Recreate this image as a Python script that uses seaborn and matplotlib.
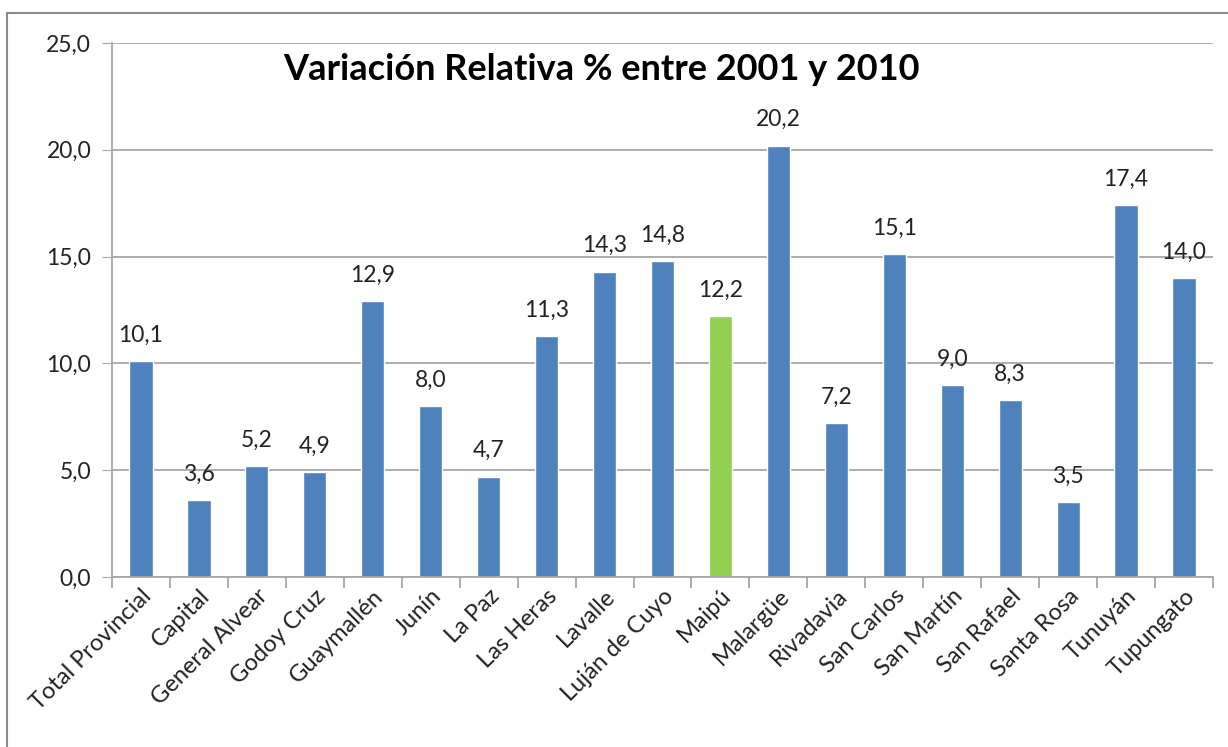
import matplotlib
matplotlib.use('Agg')
import matplotlib.pyplot as plt
import seaborn as sns
from matplotlib.lines import Line2D

# Datos
departamentos = ['Total Provincial', 'Capital', 'General Alvear', 'Godoy Cruz', 'Guaymallén',
                 'Junín', 'La Paz', 'Las Heras', 'Lavalle', 'Luján de Cuyo', 'Maipú',
                 'Malargüe', 'Rivadavia', 'San Carlos', 'San Martín', 'San Rafael',
                 'Santa Rosa', 'Tunuyán', 'Tupungato']
variacion = [10.1, 3.6, 5.2, 4.9, 12.9, 8.0, 4.7, 11.3, 14.3, 14.8, 12.2,
             20.2, 7.2, 15.1, 9.0, 8.3, 3.5, 17.4, 14.0]
destacado = 'Maipú'
titulo = 'Variación Relativa % entre 2001 y 2010'

azul = '#4F81BD'
verde = '#92D050'
colores = {d: (verde if d == destacado else azul) for d in departamentos}

sns.set_style('white')
plt.rcParams['font.family'] = ['Lato', 'DejaVu Sans']

fig = plt.figure(figsize=(12.28, 7.47), dpi=100)
ax = fig.add_axes([112 / 1228, 1 - 577 / 747, (1213 - 112) / 1228, (577 - 43) / 747])

sns.barplot(x=departamentos, y=variacion, hue=departamentos, palette=colores,
            legend=False, width=0.4, ax=ax, saturation=1)

for cont in ax.containers:
    ax.bar_label(cont, labels=[f'{v:.1f}'.replace('.', ',') for v in cont.datavalues],
                 padding=11, fontsize=16.5, color='#222222')

ax.set_ylim(0, 25)
ax.set_yticks([0, 5, 10, 15, 20, 25])
ax.set_yticklabels([f'{t:.1f}'.replace('.', ',') for t in [0, 5, 10, 15, 20, 25]])
ax.set_xlim(-0.5, len(departamentos) - 0.5)
ax.yaxis.grid(True, color='#A6A6A6', linewidth=1.3)
ax.set_axisbelow(True)

ax.tick_params(axis='y', which='major', left=True, length=7, color='#A6A6A6',
               labelsize=16.5, pad=8, labelcolor='#222222')
ax.tick_params(axis='x', which='major', length=0, labelsize=17, pad=6, labelcolor='#222222')
ax.set_xticks([i - 0.5 for i in range(len(departamentos) + 1)], minor=True)
ax.tick_params(axis='x', which='minor', bottom=True, length=8, color='#A6A6A6', width=1.3)
plt.setp(ax.get_xticklabels(), rotation=45, ha='right', rotation_mode='anchor')

for s in ['top', 'right']:
    ax.spines[s].set_visible(False)
for s in ['left', 'bottom']:
    ax.spines[s].set_color('#A6A6A6')
    ax.spines[s].set_linewidth(1.3)

ax.text(0.445, 0.95, titulo, transform=ax.transAxes, ha='center', va='center',
        fontsize=26, fontweight='bold', color='black')

# marco del gráfico
fig.add_artist(Line2D([7 / 1228, 1], [1 - 13 / 747, 1 - 13 / 747], transform=fig.transFigure,
                      color='#8C8C8C', linewidth=1.5))
fig.add_artist(Line2D([7 / 1228, 7 / 1228], [0, 1 - 13 / 747], transform=fig.transFigure,
                      color='#8C8C8C', linewidth=1.5))

fig.savefig('out.png', dpi=100)
